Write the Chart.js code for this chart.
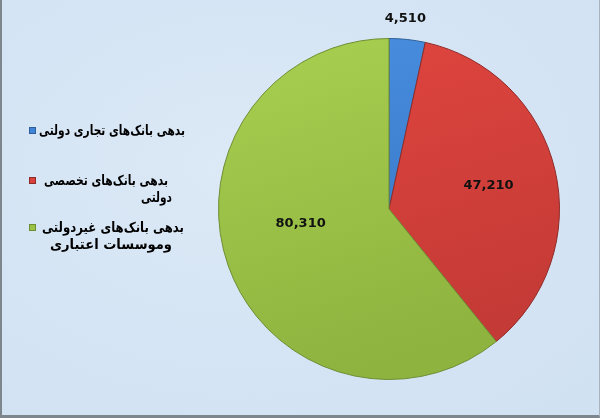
<!DOCTYPE html>
<html>
<head>
<meta charset="utf-8">
<script src="https://cdn.jsdelivr.net/npm/chart.js@4/dist/chart.umd.min.js"></script>
<style>
html,body{margin:0;padding:0;}
body{width:600px;height:418px;overflow:hidden;background:#d7e6f5;}
#wrap{position:relative;width:600px;height:418px;box-sizing:border-box;border-left:2px solid #7d858d;border-bottom:3px solid #7d858d;border-right:1px solid #aab3bb;
background:radial-gradient(ellipse at 40% 40%, #dce9f6 0%, #d4e4f4 60%, #d0e1f2 100%);}
canvas{position:absolute;left:0;top:0;}
</style>
</head>
<body>
<div id="wrap"><canvas id="c" width="600" height="418"></canvas></div>
<script>
// ---- data ----
const categories = [
  'بدهی بانک‌های تجاری دولتی',
  'بدهی بانک‌های تخصصی دولتی',
  'بدهی بانک‌های غیردولتی وموسسات اعتباری'
];
const legendLines = [
  ['بدهی بانک‌های تجاری دولتی'],
  ['بدهی بانک‌های تخصصی', 'دولتی'],
  ['بدهی بانک‌های غیردولتی', 'وموسسات اعتباری']
];
const values = [4510, 47210, 80310];
const valueLabels = ['4,510', '47,210', '80,310'];

// ---- styles ----
const colorsTop = ['#4a90e2', '#e2463f', '#a8d050'];
const colorsBottom = ['#3572c0', '#c43a36', '#8eb33f'];
const colors = ['#3f84d6', '#d9413d', '#9bc346'];
const borderColors = ['#2f5f9a', '#8e2b28', '#6f8d33'];

function grad(ctx, i) {
  const chart = ctx.chart;
  const a = chart.chartArea;
  if (!a) return colors[i];
  const g = chart.ctx.createLinearGradient(a.left, a.top, a.left + (a.right - a.left) * 0.3, a.bottom);
  g.addColorStop(0, colorsTop[i]);
  g.addColorStop(1, colorsBottom[i]);
  return g;
}

const labelPlugin = {
  id: 'valueLabels',
  afterDatasetsDraw(chart) {
    const ctx = chart.ctx;
    const meta = chart.getDatasetMeta(0);
    ctx.save();
    ctx.font = 'bold 13px "DejaVu Sans", sans-serif';
    ctx.fillStyle = '#111';
    ctx.textAlign = 'center';
    ctx.textBaseline = 'middle';
    const factors = [1.12, 0.6, 0.5];
    meta.data.forEach((arc, i) => {
      const p = arc.getProps(['x','y','startAngle','endAngle','outerRadius'], true);
      const mid = (p.startAngle + p.endAngle) / 2;
      const r = p.outerRadius * factors[i];
      let x = p.x + Math.cos(mid) * r;
      let y = p.y + Math.sin(mid) * r;
      if (i === 0) { x = p.x + Math.cos(mid) * r * 0.8; y = p.y - p.outerRadius - 20; }
      if (i === 2) { x -= 8; y -= 14; }
      ctx.fillText(valueLabels[i], x, y);
    });
    ctx.restore();
  }
};

const legendPlugin = {
  id: 'sideLegend',
  afterDraw(chart) {
    const ctx = chart.ctx;
    ctx.save();
    ctx.font = 'bold 14px "DejaVu Sans", sans-serif';
    ctx.direction = 'rtl';
    ctx.textAlign = 'right';
    ctx.textBaseline = 'middle';
    const tops = [131, 181, 228];
    const rights = [[183], [166, 170], [182, 170]];
    const widths = [[146], [124, 31], [142, 122]];
    const lineH = 17;
    legendLines.forEach((lines, i) => {
      ctx.fillStyle = colors[i];
      ctx.fillRect(27, tops[i] - 4, 7, 7);
      ctx.strokeStyle = borderColors[i];
      ctx.lineWidth = 1;
      ctx.strokeRect(27.5, tops[i] - 3.5, 6, 6);
      ctx.fillStyle = '#000';
      lines.forEach((t, j) => {
        ctx.fillText(t, rights[i][j], tops[i] + j * lineH, widths[i][j]);
      });
    });
    ctx.restore();
  }
};

new Chart(document.getElementById('c'), {
  type: 'pie',
  data: {
    labels: categories,
    datasets: [{
      data: values,
      backgroundColor: (ctx) => grad(ctx, ctx.dataIndex),
      borderColor: borderColors,
      borderWidth: 1
    }]
  },
  options: {
    responsive: false,
    animation: false,
    layout: { padding: { left: 215, right: 41, top: 38, bottom: 38 } },
    plugins: { legend: { display: false }, tooltip: { enabled: false } }
  },
  plugins: [labelPlugin, legendPlugin]
});
</script>
</body>
</html>
